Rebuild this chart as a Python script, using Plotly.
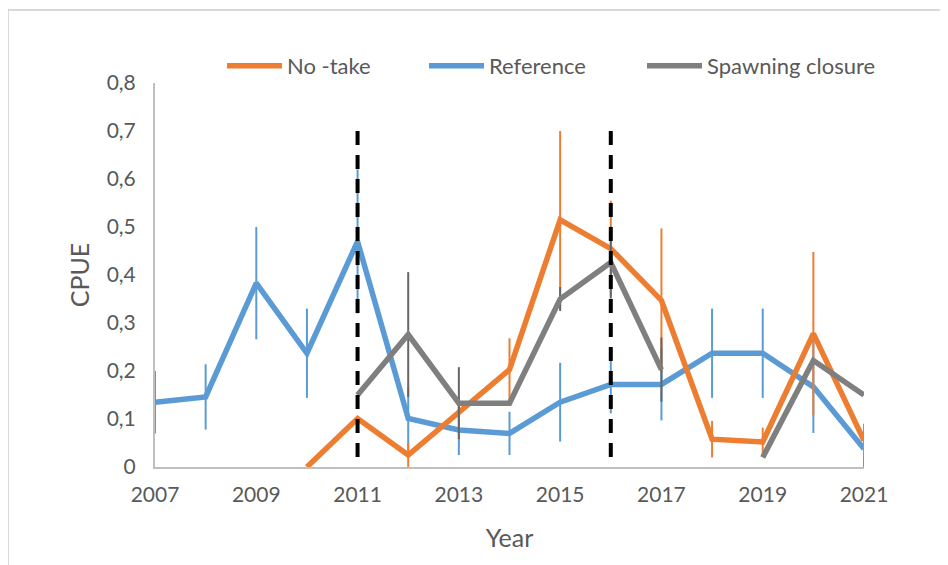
import plotly.graph_objects as go

# ---- data ----
years = list(range(2007, 2022))

no_take = [None, None, None, 0.000, 0.101, 0.025, 0.115, 0.203, 0.515, 0.455,
           0.347, 0.058, 0.052, 0.278, 0.055]
no_take_err = [None, None, None, 0.000, 0.000, 0.025, 0.030, 0.065, 0.185, 0.100,
               0.150, 0.038, 0.030, 0.170, 0.035]

reference = [0.135, 0.146, 0.383, 0.237, 0.470, 0.101, 0.077, 0.070, 0.135, 0.172,
             0.172, 0.237, 0.237, 0.167, 0.038]
reference_err = [0.065, 0.068, 0.117, 0.093, 0.150, 0.065, 0.052, 0.045, 0.082, 0.060,
                 0.075, 0.093, 0.093, 0.096, 0.038]

spawning = [None, None, None, None, 0.150, 0.276, 0.133, 0.133, 0.350, 0.426,
            0.203, None, 0.020, 0.222, 0.150]
spawning_err = [None, None, None, None, 0.000, 0.130, 0.075, 0.000, 0.025, 0.075,
                0.067, None, 0.000, 0.000, 0.000]

closure_years = [2011, 2016]
closure_top = 0.7

x_ticks = [2007, 2009, 2011, 2013, 2015, 2017, 2019, 2021]
y_ticks = [0, 0.1, 0.2, 0.3, 0.4, 0.5, 0.6, 0.7, 0.8]

# ---- styling ----
FONT = "Lato, 'Open Sans', sans-serif"
TXT = "#595959"
AX = "#bfbfbf"
ORANGE = "#ED7D31"
BLUE = "#5B9BD5"
GRAY = "#7F7F7F"

# page offset (default body margin of the html page)
OFF = 8
FW, FH = 948 - OFF, 565 - OFF

fig = go.Figure()

def add_series(name, y, err, color, err_color, legend, rank):
    fig.add_trace(go.Scatter(
        x=years, y=y, name=name, mode="lines",
        line=dict(color=color, width=5.5),
        connectgaps=False,
        error_y=dict(type="data", array=err, symmetric=True, visible=True,
                     color=err_color, thickness=2, width=0),
        legend=legend, legendrank=rank,
    ))

add_series("Reference", reference, reference_err, BLUE, BLUE, "legend2", 2)
add_series("No -take", no_take, no_take_err, ORANGE, ORANGE, "legend", 1)
add_series("Spawning closure", spawning, spawning_err, GRAY, "#666666", "legend3", 3)

for yr in closure_years:
    fig.add_shape(type="line", xref="x", yref="y", x0=yr, x1=yr, y0=closure_top, y1=0,
                  line=dict(color="black", width=4, dash="14px,10px"), layer="above")

# plot area in page pixels
L, T, R, B = 155, 83, 864, 467
W, H = R - L, B - T
def px(x):
    return (x - L) / W
def py(y):
    return (B - y) / H

# outer chart border (Excel chart area)
border = dict(color="#d9d9d9", width=2)
fig.add_shape(type="line", xref="paper", yref="paper", x0=px(8), x1=px(8), y0=py(10), y1=py(600), line=border)
fig.add_shape(type="line", xref="paper", yref="paper", x0=px(8), x1=px(941), y0=py(10), y1=py(10), line=border)
fig.add_shape(type="line", xref="paper", yref="paper", x0=px(941), x1=px(941), y0=py(10), y1=py(600), line=border)

leg_common = dict(orientation="h", yanchor="middle", xanchor="left", bgcolor="rgba(0,0,0,0)",
                  font=dict(family=FONT, size=22, color=TXT), itemwidth=55)
fig.update_layout(
    width=FW, height=FH,
    margin=dict(l=L - OFF, r=948 - R, t=T - OFF, b=565 - B, autoexpand=False),
    paper_bgcolor="white", plot_bgcolor="white",
    font=dict(family=FONT, color=TXT, size=21),
    separators=",.",
    showlegend=True,
    legend=dict(x=px(222), y=py(66), **leg_common),
    legend2=dict(x=px(424), y=py(66), **leg_common),
    legend3=dict(x=px(642), y=py(66), **leg_common),
    xaxis=dict(range=[2007, 2021], tickvals=x_ticks, ticktext=[str(v) for v in x_ticks],
               showgrid=False, zeroline=False, showline=True, linecolor=AX, linewidth=2,
               ticks="", tickfont=dict(size=21, color=TXT), ticklabelstandoff=8,
               title=dict(text="Year", font=dict(size=25, color=TXT), standoff=24)),
    yaxis=dict(range=[0, 0.8], tickvals=y_ticks, showgrid=False, zeroline=False,
               showline=True, linecolor=AX, linewidth=2, ticks="",
               tickfont=dict(size=21, color=TXT), ticklabelstandoff=13,
               title=dict(text="CPUE", font=dict(size=25, color=TXT), standoff=10)),
)

fig.write_html("out.html")
